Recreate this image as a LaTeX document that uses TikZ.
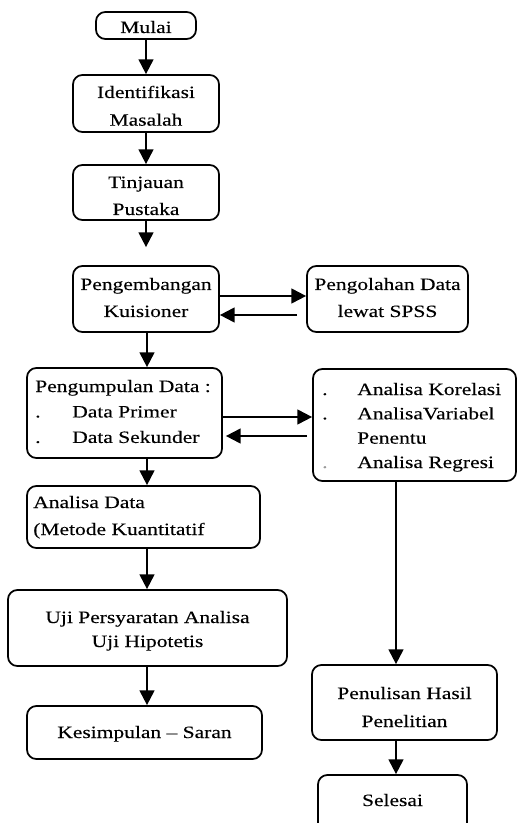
\documentclass[tikz,border=0pt]{standalone}
\usepackage{fontspec}
\usepackage{graphicx}
\setmainfont{Liberation Serif}[FakeBold=0.15]
\newcommand{\sx}[1]{\scalebox{1.24}[1]{#1}}
\usetikzlibrary{arrows.meta,fit}
\begin{document}
\begin{tikzpicture}[x=0.75pt,y=-0.75pt,
  box/.style={draw, line width=1.3pt, rounded corners=7pt, inner sep=0pt},
  txt/.style={inner sep=0pt, anchor=base, font=\fontsize{13}{20.25}\selectfont},
  ltxt/.style={inner sep=0pt, anchor=base west, font=\fontsize{13}{20.25}\selectfont},
  arr/.style={line width=1.5pt, -{Triangle[width=11pt,length=11pt]}}]
\useasboundingbox (0,0) rectangle (518,823);
\clip (0,0) rectangle (518,823);
% boxes
\node[box, fit={(96,12) (196,39)}] (mulai) {};
\node[box, fit={(73,75) (219,132)}] (ident) {};
\node[box, fit={(73,165) (219,220)}] (tinj) {};
\node[box, fit={(73,266) (219,332)}] (peng) {};
\node[box, fit={(307,266) (468,332)}] (olah) {};
\node[box, fit={(27,368) (222,458)}] (kump) {};
\node[box, fit={(313,369) (516,481)}] (anal) {};
\node[box, fit={(27,486) (260,548)}] (adata) {};
\node[box, fit={(8,590) (287,666)}] (uji) {};
\node[box, fit={(27,706) (262,759)}] (kesim) {};
\node[box, fit={(312,665) (497,740)}] (tulis) {};
\node[box, fit={(318,775) (467,834)}] (selesai) {};
% texts
\node[txt] (tmulai) at (146,33) {\sx{Mulai}};
\node[txt, font=\fontsize{13}{20.75}\selectfont] (tident) at (146,98) {\sx{\begin{tabular}[t]{@{}c@{}}Identifikasi\\Masalah\end{tabular}}};
\node[txt] (ttinj) at (146,188) {\sx{\begin{tabular}[t]{@{}c@{}}Tinjauan\\Pustaka\end{tabular}}};
\node[txt] (tpeng) at (146,290) {\sx{\begin{tabular}[t]{@{}c@{}}Pengembangan\\Kuisioner\end{tabular}}};
\node[txt] (tolah) at (387.5,290) {\sx{\begin{tabular}[t]{@{}c@{}}Pengolahan Data\\lewat SPSS\end{tabular}}};
\node[ltxt, font=\fontsize{13}{19.1}\selectfont] (tkump) at (35,392) {\sx{\begin{tabular}[t]{@{}l@{}}Pengumpulan Data :\\\makebox[22.4pt][l]{.}Data Primer\\\makebox[22.4pt][l]{.}Data Sekunder\end{tabular}}};
\node[ltxt, font=\fontsize{13}{18.25}\selectfont] (tanal) at (322,395) {\sx{\begin{tabular}[t]{@{}l@{}}\makebox[21.2pt][l]{.}Analisa Korelasi\\\makebox[21.2pt][l]{.}AnalisaVariabel\\\makebox[21.2pt][l]{}Penentu\\\makebox[21.2pt][l]{\textcolor{black!40}{.}}Analisa Regresi\end{tabular}}};
\node[ltxt] (tadata) at (33,508) {\sx{\begin{tabular}[t]{@{}l@{}}Analisa Data\\(Metode Kuantitatif\end{tabular}}};
\node[txt, font=\fontsize{13}{18}\selectfont] (tuji) at (147.5,623) {\sx{\begin{tabular}[t]{@{}c@{}}Uji Persyaratan Analisa\\Uji Hipotetis\end{tabular}}};
\node[txt] (tkesim) at (144.5,738) {\sx{Kesimpulan – Saran}};
\node[txt, font=\fontsize{13}{21}\selectfont] (ttulis) at (404.5,699) {\sx{\begin{tabular}[t]{@{}c@{}}Penulisan Hasil\\Penelitian\end{tabular}}};
\node[txt] (tsel) at (392.5,806) {\sx{Selesai}};
% connectors
\coordinate (r1) at (0,296);
\coordinate (r2) at (0,315);
\coordinate (r3) at (0,417);
\coordinate (r4) at (0,436);
\coordinate (colL) at (147,0);
\coordinate (colR) at (396,0);
\draw[arr] (mulai.south) -- (ident.north);
\draw[arr] (ident.south) -- (tinj.north);
\draw[arr, shorten >=13.5pt] (tinj.south) -- (peng.north);
\draw[arr] (peng.south -| colL) -- (kump.north -| colL);
\draw[arr] (kump.south -| colL) -- (adata.north -| colL);
\draw[arr] (adata.south -| colL) -- (uji.north -| colL);
\draw[arr] (uji.south -| colL) -- (kesim.north -| colL);
\draw[arr] (peng.east |- r1) -- (olah.west |- r1);
\draw[arr, shorten <=6.75pt] (olah.west |- r2) -- (peng.east |- r2);
\draw[arr] (kump.east |- r3) -- (anal.west |- r3);
\draw[arr, shorten <=3.75pt, shorten >=2.25pt] (anal.west |- r4) -- (kump.east |- r4);
\draw[arr] (anal.south -| colR) -- (tulis.north -| colR);
\draw[arr] (tulis.south -| colR) -- (selesai.north -| colR);
\end{tikzpicture}
\end{document}
